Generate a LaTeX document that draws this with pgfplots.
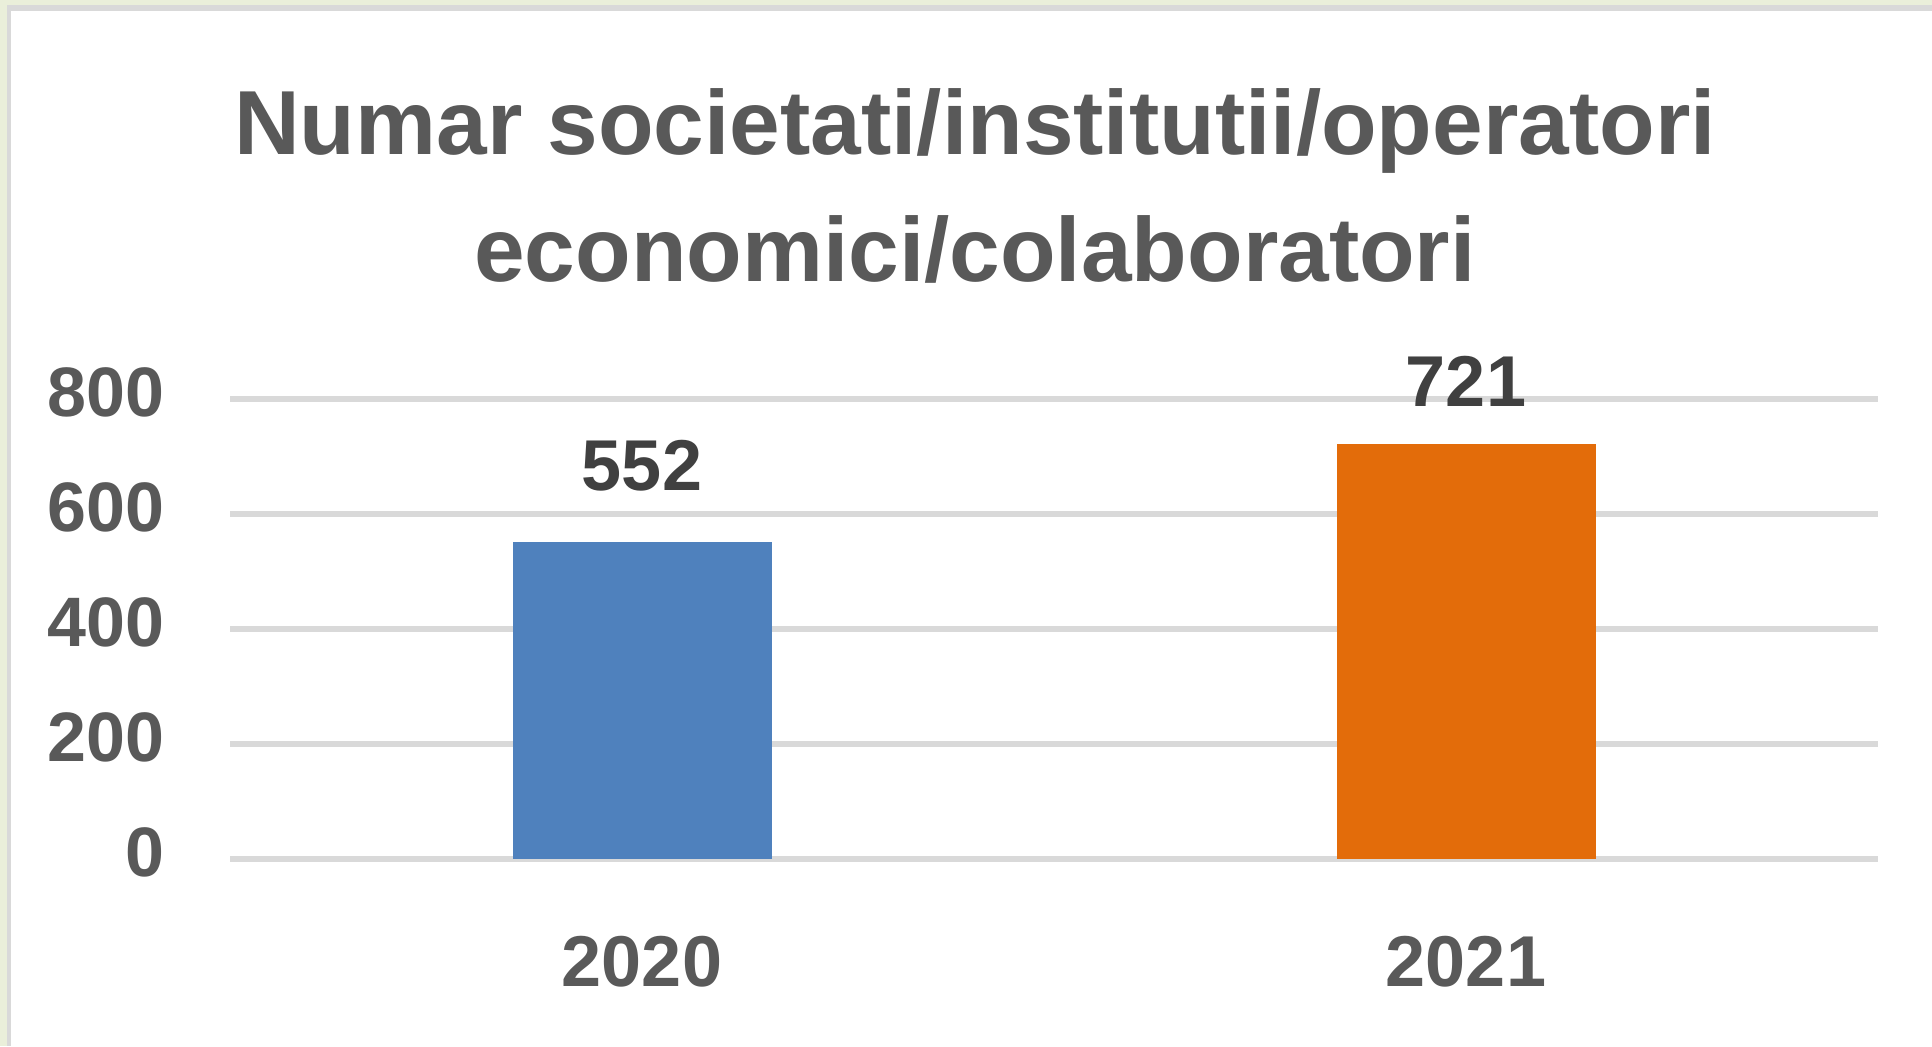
\documentclass[border=0pt]{standalone}
\usepackage{fontspec}
\setmainfont{Liberation Sans}
\usepackage{pgfplots}
\pgfplotsset{compat=1.18}
\definecolor{bgc}{RGB}{234,239,218}
\definecolor{framec}{RGB}{217,217,217}
\definecolor{gridc}{RGB}{217,217,217}
\definecolor{txt}{RGB}{89,89,89}
\definecolor{lbl}{RGB}{64,64,64}
\definecolor{barblue}{RGB}{79,129,189}
\definecolor{barorange}{RGB}{227,108,10}
\begin{document}
\begin{tikzpicture}
\fill[bgc] (0,0) rectangle (966pt,523pt);
\fill[framec] (3.5pt,0) rectangle (966pt,520.5pt);
\fill[white] (5.5pt,0) rectangle (966pt,517.5pt);
\node[anchor=base, text=txt, font=\fontsize{45.5}{55}\selectfont\bfseries, inner sep=0pt] at (487.5pt,445.5pt) {Numar societati/institutii/operatori};
\node[anchor=base, text=txt, font=\fontsize{45.5}{55}\selectfont\bfseries, inner sep=0pt] at (487.5pt,382pt) {economici/colaboratori};
\begin{axis}[
  at={(115pt,93.5pt)}, anchor=south west,
  scale only axis, width=824pt, height=230pt,
  xmin=-0.5, xmax=1.5, ymin=0, ymax=800,
  xtick={0,1}, xticklabels={2020,2021},
  ytick={0,200,400,600,800},
  axis line style={draw=none},
  major tick length=0pt,
  ymajorgrids, grid style={gridc, line width=3pt},
  /pgf/number format/assume math mode=true,
  yticklabel style={anchor=east, inner sep=0pt, xshift=-32.5pt, yshift=3.5pt, text=txt, font=\fontsize{35}{42}\selectfont\bfseries},
  xticklabel style={anchor=north, inner sep=0pt, yshift=-38.5pt, text=txt, font=\fontsize{36}{43}\selectfont\bfseries},
  clip=false,
]
\addplot[ybar, bar width=129.5pt, bar shift=0pt, fill=barblue, draw=none,
  nodes near coords, nodes near coords style={anchor=south, inner sep=0pt, yshift=25pt, text=lbl, font=\fontsize{36}{43}\selectfont\bfseries}]
  coordinates {(0,552)};
\addplot[ybar, bar width=129.5pt, bar shift=0pt, fill=barorange, draw=none,
  nodes near coords, nodes near coords style={anchor=south, inner sep=0pt, yshift=19pt, text=lbl, font=\fontsize{36}{43}\selectfont\bfseries}]
  coordinates {(1,721)};
\end{axis}
\pgfresetboundingbox
\useasboundingbox (0,0) rectangle (966pt,523pt);
\end{tikzpicture}
\end{document}
